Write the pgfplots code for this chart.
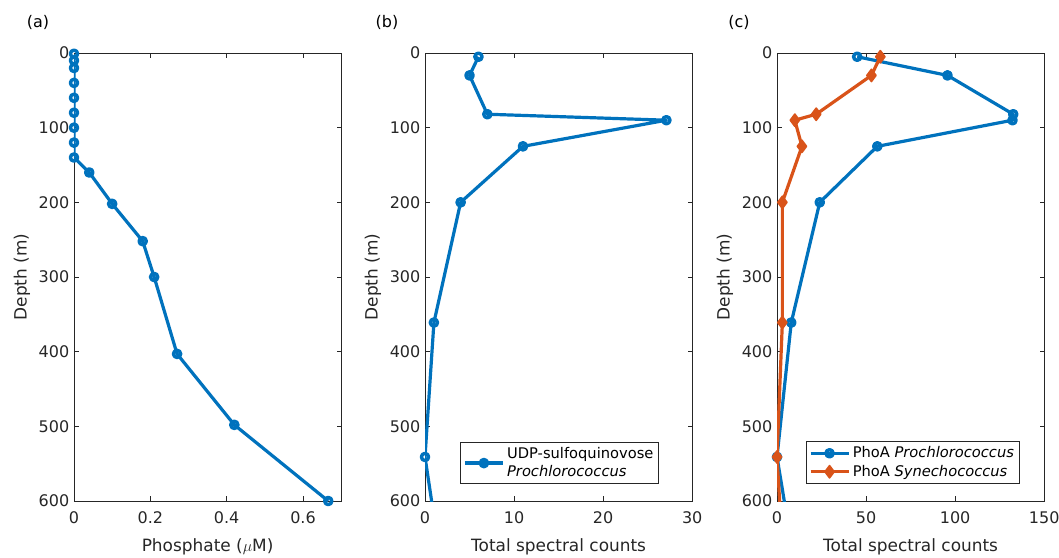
\documentclass[border=0pt]{standalone}
\usepackage{fontspec}
\setmainfont{DejaVu Sans}
\usepackage{pgfplots}
\pgfplotsset{compat=1.18}

\definecolor{mblue}{rgb}{0,0.447,0.741}
\definecolor{morange}{rgb}{0.850,0.325,0.098}
\definecolor{axgray}{rgb}{0.15,0.15,0.15}

\pgfplotsset{
  depthprofile/.style={
    scale only axis, width=200.4pt, height=336pt,
    y dir=reverse, ymin=0, ymax=600, ytick={0,100,...,600},
    axis line style={axgray, line width=0.6pt},
    tick style={axgray, line width=0.6pt},
    tick align=inside, major tick length=3.5pt,
    ticklabel style={font=\fontsize{12}{14}\selectfont, text=axgray},
    xticklabel style={yshift=-4.5pt},
    label style={font=\fontsize{12.7}{15}\selectfont, text=axgray},
    ylabel={Depth (m)},
    ylabel style={at={(axis description cs:-0.195,0.5)}, anchor=center},
    xlabel style={at={(axis description cs:0.5,-0.1027)}, anchor=center},
    /pgf/number format/assume math mode=true,
    clip mode=individual,
    legend style={draw=axgray, line width=0.5pt, font=\fontsize{11}{13}\selectfont,
      cells={anchor=west, align=left}, inner xsep=2pt, inner ysep=2pt},
    legend image code/.code={%
      \draw[mark repeat=2, mark phase=2] plot coordinates {(0cm,0cm) (0.5cm,0cm) (1cm,0cm)};},
  },
  bluecirc/.style={color=mblue, line width=2.4pt, line join=round, mark=o, mark size=2.7pt,
    mark options={solid, line width=2.6pt}},
  orangediam/.style={color=morange, line width=2.4pt, line join=round, mark=diamond*, mark size=4.6pt,
    mark options={solid, line width=1.2pt}},
}

\begin{document}
\begin{tikzpicture}
\useasboundingbox (0,0) rectangle (794.25pt,417.75pt);

% (a) phosphate profile
\begin{axis}[depthprofile, at={(55.5pt,42pt)}, anchor=south west,
  xmin=0, xmax=0.7, xtick={0,0.2,0.4,0.6},
  xlabel={Phosphate ($\mu$M)}]
\addplot[bluecirc] coordinates {
  (0,1) (0,10) (0,20) (0,40) (0,60) (0,80) (0,100) (0,120) (0,140)
  (0.04,160) (0.10,202) (0.18,252) (0.21,300) (0.27,403) (0.42,498) (0.666,600)};
\end{axis}

% (b) UDP-sulfoquinovose synthase
\begin{axis}[depthprofile, at={(318.75pt,42pt)}, anchor=south west,
  xmin=0, xmax=30, xtick={0,10,20,30},
  xlabel={Total spectral counts},
  legend style={at={(0.876,0.038)}, anchor=south east}]
\addplot[bluecirc] coordinates {
  (6,5) (5,30) (7,82) (27.1,90) (11,125) (4,200) (1,361) (0,541) (2,700)};
\addlegendentry{UDP-sulfoquinovose\\\textit{Prochlorococcus}}
\end{axis}

% (c) alkaline phosphatase
\begin{axis}[depthprofile, at={(582.75pt,42pt)}, anchor=south west,
  xmin=0, xmax=150, xtick={0,50,100,150},
  xlabel={Total spectral counts},
  legend style={at={(0.908,0.038)}, anchor=south east}]
\addplot[bluecirc] coordinates {
  (45,5) (95.7,30) (132.6,82) (132.2,90) (56.3,125) (24,200) (8,361) (0,541) (11,700)};
\addlegendentry{PhoA \textit{Prochlorococcus}}
\addplot[orangediam] coordinates {
  (58,5) (53,30) (22,82) (10,90) (14,125) (3,200) (3,361) (0,541) (4,700)};
\addlegendentry{PhoA \textit{Synechococcus}}
\end{axis}

\node[font=\fontsize{12}{14}\selectfont, text=black] at (28.5pt,400.9pt) {(a)};
\node[font=\fontsize{12}{14}\selectfont, text=black] at (290.25pt,400.9pt) {(b)};
\node[font=\fontsize{12}{14}\selectfont, text=black] at (554.25pt,400.9pt) {(c)};
\end{tikzpicture}
\end{document}
